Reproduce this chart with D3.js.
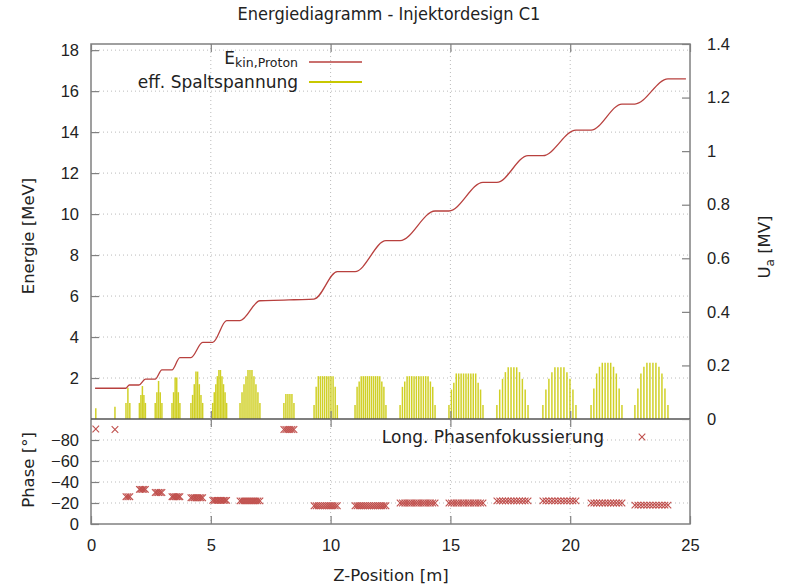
<!DOCTYPE html>
<html>
<head>
<meta charset="utf-8">
<script src="https://cdn.jsdelivr.net/npm/d3@7"></script>
<style>
  html, body { margin: 0; padding: 0; background: #fff; }
  svg { display: block; font-family: "DejaVu Sans", sans-serif; }
  .tick-label { font-size: 16.5px; fill: #222; }
  .axis-title { font-size: 16.5px; fill: #222; }
  .grid { stroke: #bbb; stroke-width: 1; stroke-dasharray: 1,3; }
</style>
</head>
<body>
<div id="chart"></div>
<script>
// Kinetische Energie des Protons entlang der Strahlachse
const energyZ = [0.17, 1.45, 1.6, 2.0, 2.27, 2.68, 2.96, 3.38, 3.71, 4.17, 4.66, 5.08, 5.66,
  6.22, 7.05, 8.05, 8.47, 9.31, 10.28, 11.02, 12.31, 12.9, 14.36, 14.94, 16.36, 16.94, 18.24,
  18.86, 20.24, 20.87, 22.16, 22.7, 24.08, 24.83];
const energyMeV = [1.5, 1.5, 1.66, 1.66, 1.95, 1.95, 2.4, 2.4, 3.0, 3.0, 3.74, 3.74, 4.8,
  4.8, 5.77, 5.8, 5.82, 5.85, 7.19, 7.19, 8.7, 8.7, 10.15, 10.15, 11.55, 11.55, 12.85,
  12.85, 14.1, 14.1, 15.37, 15.37, 16.6, 16.6];

// Spaltgruppen (Kavitaeten): Anfang/Ende in m, eff. Spaltspannung je Spalt in MV
const groupStart = [0.2, 1.0, 1.46, 2.02, 2.68, 3.38, 4.17, 5.08, 6.22, 8.05, 9.31, 11.02,
  12.9, 14.94, 16.94, 18.86, 20.87, 22.7];
const groupEnd = [0.2, 1.0, 1.62, 2.27, 2.96, 3.71, 4.66, 5.66, 7.05, 8.47, 10.28, 12.31,
  14.36, 16.36, 18.24, 20.24, 22.16, 24.08];
const gapVoltage = [
  [0.04],
  [0.046],
  [0.06, 0.117, 0.06],
  [0.06, 0.09, 0.123, 0.09, 0.06],
  [0.06, 0.1, 0.142, 0.1, 0.06],
  [0.06, 0.1, 0.155, 0.155, 0.1, 0.06],
  [0.06, 0.09, 0.13, 0.177, 0.177, 0.13, 0.09, 0.06],
  [0.06, 0.1, 0.13, 0.16, 0.183, 0.183, 0.16, 0.13, 0.1, 0.06],
  [0.06, 0.1, 0.13, 0.16, 0.183, 0.183, 0.183, 0.16, 0.13, 0.1, 0.06],
  [0.06, 0.093, 0.093, 0.093, 0.093, 0.06],
  [0.052, 0.12, 0.16, 0.16, 0.16, 0.16, 0.16, 0.16, 0.16, 0.16, 0.12, 0.052],
  [0.052, 0.12, 0.14, 0.16, 0.16, 0.16, 0.16, 0.16, 0.16, 0.16, 0.16, 0.16, 0.16, 0.14, 0.12, 0.052],
  [0.052, 0.12, 0.14, 0.16, 0.16, 0.16, 0.16, 0.16, 0.16, 0.16, 0.16, 0.16, 0.16, 0.14, 0.12, 0.052],
  [0.052, 0.11, 0.135, 0.17, 0.17, 0.17, 0.17, 0.17, 0.17, 0.17, 0.17, 0.17, 0.135, 0.11, 0.052],
  [0.052, 0.11, 0.15, 0.175, 0.193, 0.193, 0.193, 0.193, 0.175, 0.15, 0.11, 0.052],
  [0.052, 0.11, 0.15, 0.175, 0.193, 0.193, 0.193, 0.193, 0.175, 0.15, 0.11, 0.052],
  [0.052, 0.114, 0.17, 0.195, 0.21, 0.21, 0.21, 0.21, 0.195, 0.17, 0.114, 0.052],
  [0.052, 0.114, 0.17, 0.195, 0.21, 0.21, 0.21, 0.21, 0.195, 0.17, 0.114, 0.052]
];
// synchrone Phase je Gruppe in Grad
const groupPhase = [-90.5, -90, -26, -33, -30, -26, -25, -22.5, -22, -90, -17.4, -17.4,
  -20, -20, -22, -22, -20, -18];

const xTicks = [0, 5, 10, 15, 20, 25];
const energyTicks = [2, 4, 6, 8, 10, 12, 14, 16, 18];
const voltTicks = [0, 0.2, 0.4, 0.6, 0.8, 1, 1.2, 1.4];
const phaseTicks = [-80, -60, -40, -20, 0];

const W = 786, H = 586;
const pLeft = 91, pRight = 690, pTop = 44, pMid = 419, pBottom = 524;

const svg = d3.select("#chart").append("svg")
  .attr("width", W).attr("height", H);

const x = d3.scaleLinear().domain([0, 25]).range([pLeft, pRight]);
const yE = d3.scaleLinear().domain([0, 18.3]).range([pMid, pTop]);
const yU = d3.scaleLinear().domain([0, 1.4]).range([pMid, pTop]);
const yP = d3.scaleLinear().domain([0, -100]).range([pBottom, pMid]);

// Spalte flach machen: z-Position + Spannung + Phase
const gaps = [];
groupStart.forEach((s, g) => {
  const v = gapVoltage[g];
  const n = v.length;
  v.forEach((u, i) => {
    const z = n === 1 ? s : s + (groupEnd[g] - s) * i / (n - 1);
    gaps.push({ z, u, phase: groupPhase[g] });
  });
});

// Gitter
const grid = svg.append("g");
energyTicks.forEach(t => {
  grid.append("line").attr("class", "grid")
    .attr("x1", pLeft).attr("x2", pRight).attr("y1", yE(t)).attr("y2", yE(t));
});
phaseTicks.filter(t => t !== 0).forEach(t => {
  grid.append("line").attr("class", "grid")
    .attr("x1", pLeft).attr("x2", pRight).attr("y1", yP(t)).attr("y2", yP(t));
});
xTicks.slice(1, -1).forEach(t => {
  grid.append("line").attr("class", "grid")
    .attr("x1", x(t)).attr("x2", x(t)).attr("y1", pTop).attr("y2", pBottom);
});

// Spaltspannungen als Impulse
svg.append("g").selectAll("line")
  .data(gaps)
  .enter().append("line")
  .attr("x1", d => x(d.z)).attr("x2", d => x(d.z))
  .attr("y1", yU(0)).attr("y2", d => yU(d.u))
  .attr("stroke", "#c8c800").attr("stroke-opacity", 0.85).attr("stroke-width", 1.5);

// Energie-Kurve
const line = d3.line()
  .x((d, i) => x(energyZ[i]))
  .y(d => yE(d))
  .curve(d3.curveMonotoneX);
svg.append("path")
  .attr("d", line(energyMeV))
  .attr("fill", "none").attr("stroke", "#b8403e").attr("stroke-width", 1.3);

// Phasen-Marker
function cross(sel, cx, cy, r) {
  sel.append("path")
    .attr("d", `M${cx - r},${cy - r}L${cx + r},${cy + r}M${cx - r},${cy + r}L${cx + r},${cy - r}`)
    .attr("stroke", "#c0504d").attr("stroke-width", 1.1).attr("fill", "none");
}
const markers = svg.append("g");
gaps.forEach(d => cross(markers, x(d.z), yP(d.phase), 3.3));

// Rahmen
const frame = svg.append("g").attr("stroke", "#808080").attr("stroke-width", 1.5).attr("fill", "none");
frame.append("rect").attr("x", pLeft).attr("y", pTop).attr("width", pRight - pLeft).attr("height", pBottom - pTop);
svg.append("line").attr("x1", pLeft).attr("x2", pRight).attr("y1", pMid).attr("y2", pMid)
  .attr("stroke", "#555").attr("stroke-width", 1.5);

// Achsen mit d3.axis, Ticks nach innen
const tickLen = 8;
function styleAxis(g) {
  g.select(".domain").remove();
  g.selectAll(".tick line").attr("stroke", "#808080").attr("stroke-width", 1.2);
  g.selectAll(".tick text").attr("class", "tick-label").attr("fill", "#222");
}
svg.append("g").attr("transform", `translate(${pLeft},0)`)
  .call(d3.axisRight(yE).tickValues(energyTicks).tickSize(tickLen).tickFormat(d3.format("d")))
  .call(styleAxis)
  .call(g => g.selectAll(".tick text").attr("x", -12).attr("text-anchor", "end"));
svg.append("g").attr("transform", `translate(${pRight},0)`)
  .call(d3.axisLeft(yU).tickValues(voltTicks).tickSize(tickLen).tickFormat(d => d === 0 || d === 1 ? d3.format("d")(d) : d3.format(".1f")(d)))
  .call(styleAxis)
  .call(g => g.selectAll(".tick text").attr("x", 17).attr("text-anchor", "start"));
svg.append("g").attr("transform", `translate(${pLeft},0)`)
  .call(d3.axisRight(yP).tickValues(phaseTicks).tickSize(tickLen).tickFormat(d3.format("d")))
  .call(styleAxis)
  .call(g => g.selectAll(".tick text").attr("x", -12).attr("text-anchor", "end"));
svg.append("g").attr("transform", `translate(0,${pBottom})`)
  .call(d3.axisTop(x).tickValues(xTicks).tickSize(tickLen).tickFormat(d3.format("d")))
  .call(styleAxis)
  .call(g => g.selectAll(".tick text").attr("y", 21).attr("dy", "0.35em"));
svg.append("g").attr("transform", `translate(0,${pTop})`)
  .call(d3.axisBottom(x).tickValues(xTicks).tickSize(tickLen).tickFormat(""))
  .call(styleAxis);
svg.append("g").attr("transform", `translate(0,${pMid})`)
  .call(d3.axisBottom(x).tickValues(xTicks.slice(1, -1)).tickSize(tickLen).tickFormat(""))
  .call(styleAxis);
svg.append("g").attr("transform", `translate(0,${pMid})`)
  .call(d3.axisTop(x).tickValues(xTicks.slice(1, -1)).tickSize(tickLen).tickFormat(""))
  .call(styleAxis);

// Titel und Achsenbeschriftungen
svg.append("text").attr("x", 389).attr("y", 20).attr("text-anchor", "middle")
  .style("font-family", "'DejaVu Sans Condensed', 'DejaVu Sans', sans-serif")
  .style("font-size", "18px").attr("fill", "#222")
  .text("Energiediagramm - Injektordesign C1");
svg.append("text").attr("class", "axis-title")
  .attr("transform", `translate(34,236) rotate(-90)`).attr("text-anchor", "middle")
  .text("Energie [MeV]");
svg.append("text").attr("class", "axis-title")
  .attr("transform", `translate(34,470) rotate(-90)`).attr("text-anchor", "middle")
  .text("Phase [°]");
const ua = svg.append("text").attr("class", "axis-title")
  .attr("transform", `translate(770,247) rotate(-90)`).attr("text-anchor", "middle");
ua.append("tspan").text("U");
ua.append("tspan").attr("dy", 4).style("font-size", "12px").text("a");
ua.append("tspan").attr("dy", -4).text(" [MV]");
svg.append("text").attr("class", "axis-title")
  .attr("x", 391).attr("y", 581).attr("text-anchor", "middle")
  .text("Z-Position [m]");

// Legende oben
const lg = svg.append("g").attr("class", "axis-title");
const e = lg.append("text").attr("x", 298).attr("y", 64).attr("text-anchor", "end").attr("fill", "#222");
e.append("tspan").style("font-size", "17px").text("E");
e.append("tspan").attr("dy", 3).style("font-size", "12.5px").text("kin,Proton");
lg.append("line").attr("x1", 309).attr("x2", 362).attr("y1", 62).attr("y2", 62)
  .attr("stroke", "#b8403e").attr("stroke-width", 1.3);
lg.append("text").attr("x", 298).attr("y", 88).attr("text-anchor", "end").attr("fill", "#222")
  .style("font-size", "17px").text("eff. Spaltspannung");
lg.append("line").attr("x1", 309).attr("x2", 362).attr("y1", 82).attr("y2", 82)
  .attr("stroke", "#c8c800").attr("stroke-width", 2);

// Legende Phase
svg.append("text").attr("x", 604).attr("y", 443).attr("text-anchor", "end").attr("fill", "#222")
  .style("font-size", "17px").text("Long. Phasenfokussierung");
cross(svg, 642, 437, 3.3);
</script>
</body>
</html>
